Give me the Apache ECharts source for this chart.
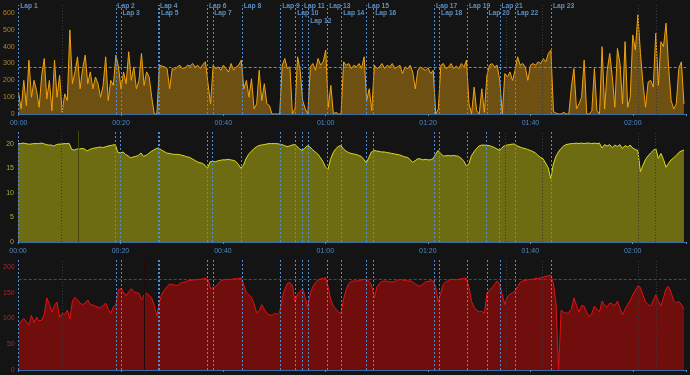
<!DOCTYPE html>
<html><head><meta charset="utf-8">
<script src="https://cdn.jsdelivr.net/npm/echarts@6/dist/echarts.min.js"></script>
<style>html,body{margin:0;padding:0;background:#141414;}#c{width:690px;height:375px;}</style>
</head><body><div id="c"></div>
<script>
// ---- data (minutes on x) ----
const STEP = 0.5; // minutes between samples
const lapNames = ['Lap 1','Lap 2','Lap 3','Lap 4','Lap 5','Lap 6','Lap 7','Lap 8','Lap 9','Lap 10','Lap 11','Lap 12','Lap 13','Lap 14','Lap 15','Lap 16','Lap 17','Lap 18','Lap 19','Lap 20','Lap 21','Lap 22','Lap 23'];
const lapTimes = [0, 18.99, 19.97, 27.33, 27.53, 36.9, 37.93, 43.67, 51.2, 54.13, 55.44, 56.68, 60.39, 63.11, 67.94, 69.36, 81.27, 82.25, 87.71, 91.5, 94.04, 97.08, 104.11];
const markerTimes = [8.53, 95.21, 102.35, 121.09, 124.49];
const speedGapTime = 11.77;
const hrGapTime = 24.46;
const powerTarget = 275;
const hrTarget = 177;
const xTickMinutes = [0, 20, 40, 60, 80, 100, 120];

const power = [
120,30,200,50,320,100,200,140,40,230,
330,90,200,20,320,100,230,10,120,80,
500,180,250,340,150,270,350,180,250,150,
220,180,100,170,340,80,200,170,350,280,
150,250,180,370,200,280,150,200,360,170,
250,220,100,0,0,290,285,280,270,150,
270,265,280,290,270,275,290,285,300,280,
290,270,295,310,180,60,290,270,280,260,
290,270,250,300,260,280,290,320,150,200,
100,210,30,60,260,80,180,60,50,0,
0,0,0,290,330,270,280,0,30,340,
260,80,30,0,280,300,260,330,290,310,
380,40,170,0,10,0,0,310,290,300,
270,290,280,300,270,340,80,150,20,290,
270,280,300,270,290,280,300,270,280,290,
240,280,270,290,250,150,260,280,270,260,
275,240,260,0,30,290,300,270,280,300,
270,285,270,300,280,320,60,0,160,20,
0,150,10,230,290,300,280,290,200,0,
240,220,250,200,260,340,290,300,280,200,
290,300,290,310,300,330,310,360,380,15,
5,0,0,10,0,0,160,270,30,60,
100,320,0,0,20,270,20,0,400,30,
260,360,220,40,390,300,60,430,40,100,
470,380,590,360,180,40,190,200,160,480,
170,430,400,540,280,80,30,60,272,310,60];

const speed = [
20.0,20.0,20.1,20.0,19.9,19.9,20.0,20.0,20.0,20.1,
20.0,19.8,19.7,19.7,19.5,19.8,19.9,19.9,20.0,20.0,
20.0,18.8,18.7,18.9,18.9,19.0,18.9,18.5,18.8,19.0,
19.1,19.2,19.3,19.2,19.3,19.5,19.6,19.7,19.8,18.2,
18.1,18.3,17.8,17.5,17.1,17.3,17.4,17.6,18.1,17.4,
17.6,18.0,18.4,18.7,19.0,19.1,18.7,18.4,18.1,18.0,
17.9,17.8,17.8,17.8,17.6,17.5,17.3,17.2,16.9,16.6,
16.3,16.1,16.0,15.6,15.0,16.3,16.4,16.3,16.5,16.6,
16.7,16.7,16.8,16.7,16.6,16.4,15.8,15.0,15.6,16.9,
17.8,18.4,18.9,19.3,19.6,19.7,19.8,19.9,20.0,20.0,
20.0,20.0,19.9,19.8,19.6,19.4,19.5,19.7,19.8,19.4,
18.9,18.6,19.1,19.6,19.3,18.8,18.3,17.9,17.2,16.4,
15.3,14.7,16.8,18.1,18.9,19.4,19.6,19.0,18.5,18.2,
18.0,17.9,17.8,17.6,17.4,16.8,16.1,17.2,18.3,18.6,
18.5,18.4,18.3,18.3,18.2,18.1,18.0,17.9,17.8,17.7,
17.5,17.3,17.2,16.8,16.2,16.5,16.9,16.9,16.7,16.8,
16.7,16.7,16.9,17.8,18.6,18.0,17.5,17.5,17.6,17.5,
17.6,17.5,17.4,17.0,16.5,15.5,15.8,17.5,18.3,19.0,
19.5,19.7,19.7,19.6,19.6,19.4,19.2,18.9,18.6,19.2,
19.6,19.7,19.8,19.9,19.9,19.5,19.3,19.1,19.0,18.8,
18.6,18.4,18.1,17.6,17.2,16.9,16.0,15.1,12.9,15.8,
17.4,18.3,19.0,19.5,19.8,19.9,20.0,20.0,20.1,20.0,
20.1,20.0,20.1,20.1,20.0,20.1,20.0,20.1,19.1,19.8,
19.5,19.8,19.2,19.7,19.4,19.8,19.0,19.6,19.3,19.7,
19.1,18.8,18.6,14.3,15.6,16.8,17.5,18.1,18.6,19.0,
17.0,18.0,16.8,15.2,16.0,16.7,17.1,17.6,18.2,18.5,18.7];

const heartRate = [
88,95,100,94,87,106,92,103,95,97,
108,140,128,112,126,132,102,110,108,116,
99,134,141,136,130,127,130,136,127,126,
124,122,121,125,130,118,110,122,128,156,
158,151,144,152,158,152,150,149,136,146,
149,145,140,125,105,132,148,155,162,167,
166,165,164,168,170,171,173,174,175,175,
176,176,177,178,175,158,160,162,168,173,
175,176,176,176,177,177,178,179,165,150,
146,141,128,111,115,127,118,110,107,106,
110,108,112,140,157,168,170,163,132,148,
153,158,140,122,150,162,170,175,177,178,
179,160,136,124,118,112,110,138,156,168,
172,173,173,173,175,176,176,172,163,140,
161,168,172,173,172,171,171,172,174,176,
175,174,173,173,171,167,164,163,167,171,
172,173,173,160,132,150,167,171,174,176,
176,175,176,177,178,178,160,133,122,116,
113,114,110,148,155,160,166,173,166,146,
127,142,147,150,153,162,170,173,174,175,
176,176,178,178,179,180,182,183,184,168,
128,0,116,112,110,112,118,140,126,112,
125,124,112,103,110,124,118,113,134,125,
122,130,128,125,134,120,107,118,127,135,
146,155,163,160,145,132,127,124,135,146,
134,124,140,158,162,150,135,130,133,127,118];

// ---- layout / style ----
const FONT = '"Liberation Sans", Arial, sans-serif';
const X_MAX = 130.4;
const GRID_L = 18, GRID_R = 4;
const grids = [
  {left: GRID_L, right: GRID_R, top: 5, height: 109},
  {left: GRID_L, right: GRID_R, top: 131, height: 111},
  {left: GRID_L, right: GRID_R, top: 259, height: 111}
];
const LAP_FONT_SIZE = 6.7;

const toPairs = arr => arr.map((v, i) => [i * STEP, v]);
function fmtTime(v) {
  if (xTickMinutes.indexOf(Math.round(v * 1000) / 1000) < 0) return '';
  const h = Math.floor(v / 60), m = Math.round(v % 60);
  return String(h).padStart(2, '0') + ':' + String(m).padStart(2, '0');
}
function xAxis(gi, showLabels) {
  return {
    type: 'value', gridIndex: gi, min: 0, max: X_MAX, interval: 20, offset: 3,
    axisLine: {show: true, lineStyle: {color: '#3a6ba3', width: 1}},
    axisTick: {show: true, length: 2, lineStyle: {color: '#5a8ac0'}},
    axisLabel: {show: showLabels, color: '#4f88c6', fontSize: 7, fontFamily: FONT, margin: 3, formatter: fmtTime},
    splitLine: {show: false}
  };
}
function yAxis(gi, max, interval, color) {
  return {
    type: 'value', gridIndex: gi, min: 0, max: max, interval: interval,
    axisLine: {show: false}, axisTick: {show: false}, splitLine: {show: false},
    axisLabel: {color: color, fontSize: 7, fontFamily: FONT, margin: 4,
      formatter: v => (Math.abs(v % interval) < 1e-6 ? String(v) : '')}
  };
}
function marks(extra) {
  return {
    silent: true, symbol: ['none', 'none'], animation: false, label: {show: false},
    emphasis: {disabled: true},
    lineStyle: {color: '#4a8fd8', type: [2, 2], width: 1},
    data: [].concat(
      lapTimes.map(t => ({xAxis: t})),
      markerTimes.map(t => ({xAxis: t, lineStyle: {color: '#3a3a3a', type: [1, 2], width: 1}})),
      extra)
  };
}

// lap label rows: push a label down a row when it would overlap the previous one
const pxPerMin = (690 - GRID_L - GRID_R) / X_MAX;
const ctx = document.createElement('canvas').getContext('2d');
ctx.font = 'bold ' + LAP_FONT_SIZE + 'px ' + FONT;
const lastEnd = [-1e9, -1e9, -1e9, -1e9];
const lapLabelData = lapTimes.map((t, i) => {
  const x = t * pxPerMin, w = ctx.measureText(lapNames[i]).width;
  let r = 0;
  while (r < 3 && x < lastEnd[r]) r++;
  lastEnd[r] = x + 2 + w + 1;
  return {value: [t, 1.3 + r * 7.2], name: lapNames[i]};
});

const chart = echarts.init(document.getElementById('c'), null, {renderer: 'canvas'});
chart.setOption({
  animation: false,
  backgroundColor: '#141414',
  textStyle: {fontFamily: FONT},
  grid: grids,
  xAxis: [xAxis(0, true), xAxis(1, true), xAxis(2, false)],
  yAxis: [
    yAxis(0, 648, 100, '#b5862a'),
    {type: 'value', gridIndex: 0, min: 0, max: 109, inverse: true, show: false},
    yAxis(1, 22.56, 5, '#b0ae2e'),
    yAxis(2, 215.5, 50, '#b82020')
  ],
  series: [
    {
      type: 'line', xAxisIndex: 0, yAxisIndex: 0, data: toPairs(power),
      symbol: 'none', lineStyle: {color: '#f2a20c', width: 1},
      areaStyle: {color: 'rgba(200,140,16,0.5)', opacity: 1},
      markLine: marks([{yAxis: powerTarget, lineStyle: {color: '#b8841c', type: [3, 2], width: 1}}])
    },
    {
      type: 'scatter', xAxisIndex: 0, yAxisIndex: 1, data: lapLabelData,
      symbolSize: 1, itemStyle: {color: 'rgba(0,0,0,0)'}, silent: true,
      label: {show: true, position: 'right', distance: 1, formatter: p => p.name,
        color: '#70aeec', fontSize: LAP_FONT_SIZE, fontWeight: 'bold', fontFamily: FONT}
    },
    {
      type: 'line', xAxisIndex: 1, yAxisIndex: 2, data: toPairs(speed),
      symbol: 'none', lineStyle: {color: '#dcdc1e', width: 1},
      areaStyle: {color: 'rgba(200,196,16,0.5)', opacity: 1},
      markLine: marks([{xAxis: speedGapTime, lineStyle: {color: '#46460c', type: 'solid', width: 1}}])
    },
    {
      type: 'line', xAxisIndex: 2, yAxisIndex: 3, data: toPairs(heartRate),
      symbol: 'none', lineStyle: {color: '#e81010', width: 1},
      areaStyle: {color: 'rgba(204,8,8,0.5)', opacity: 1},
      markLine: marks([
        {yAxis: hrTarget, lineStyle: {color: '#cc1414', type: [3, 2], width: 1}},
        {xAxis: hrGapTime, lineStyle: {color: '#220808', type: 'solid', width: 1}}
      ])
    }
  ]
});
</script></body></html>
